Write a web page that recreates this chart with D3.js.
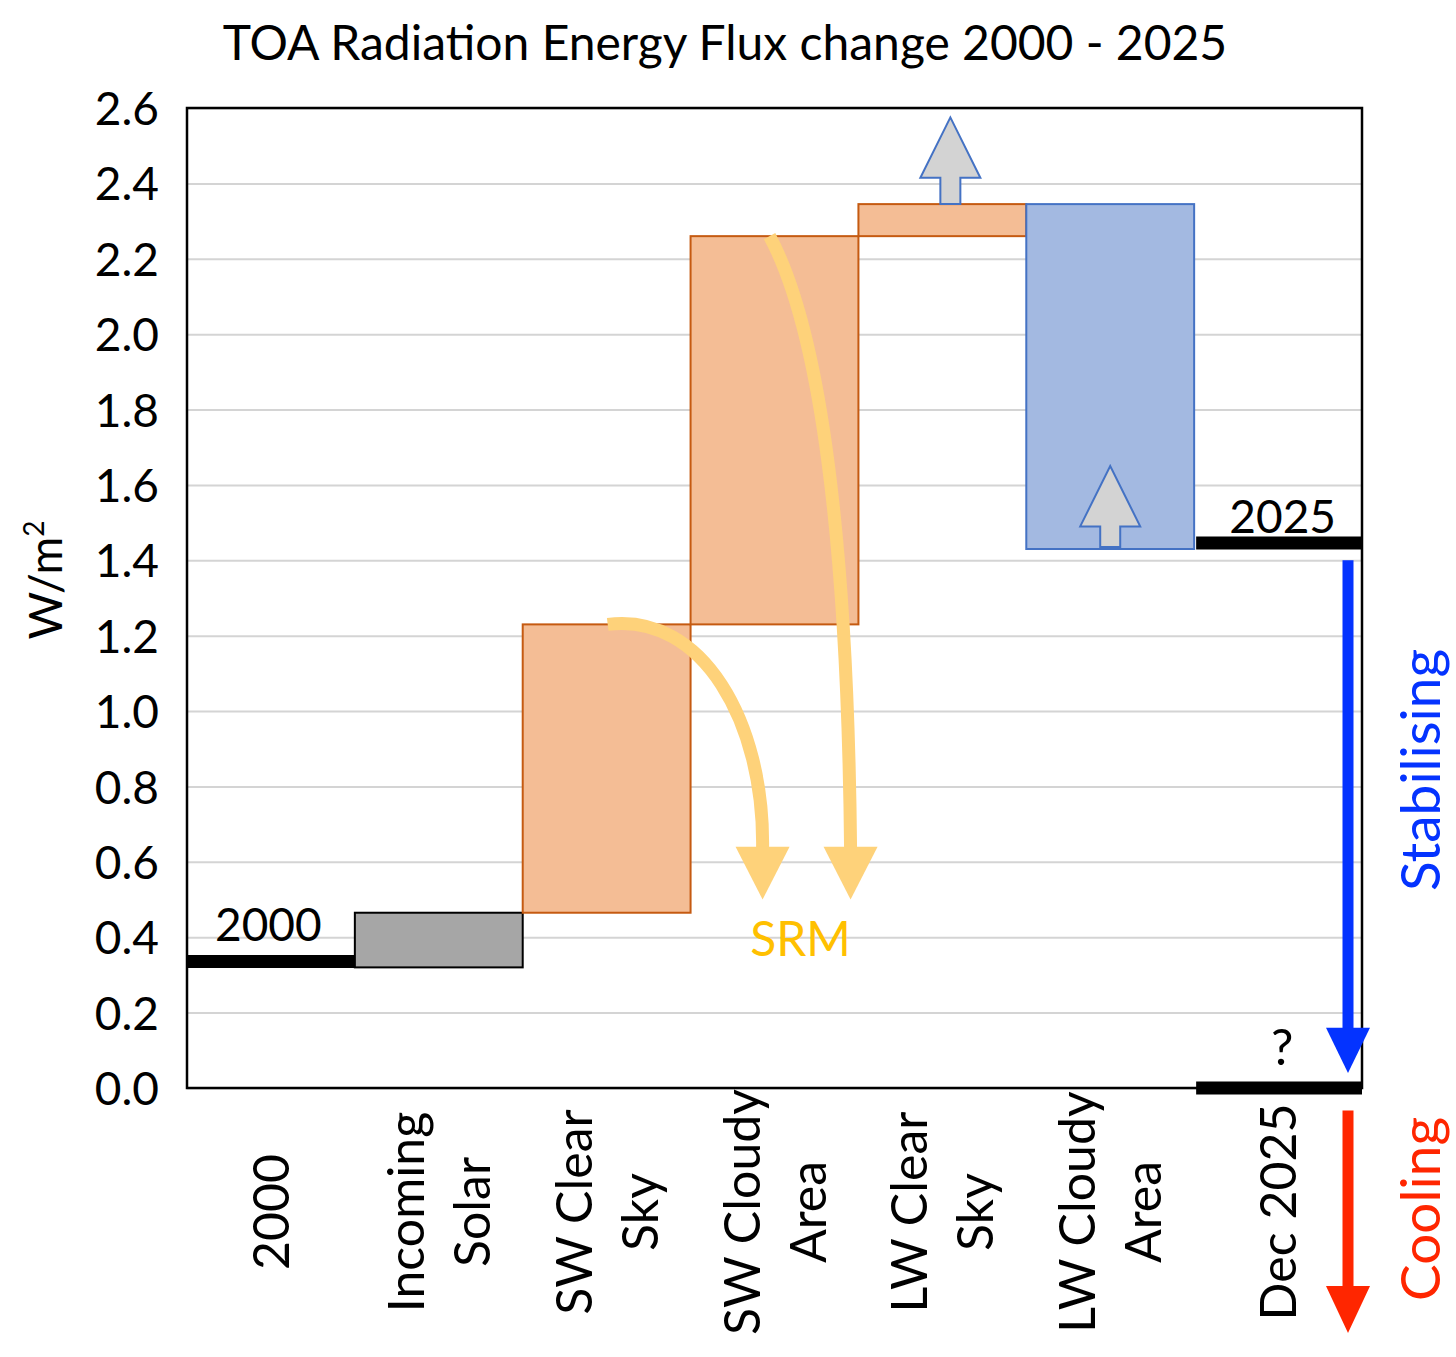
<!DOCTYPE html>
<html lang="en">
<head>
<meta charset="UTF-8">
<title>TOA Radiation Energy Flux change 2000 - 2025</title>
<script src="https://d3js.org/d3.v7.min.js"></script>
<style>
  body { margin: 0; background: #fff; }
  svg text { font-family: Lato, "Open Sans", sans-serif; fill: #000; }
  .grid line { stroke: #d4d4d4; stroke-width: 2px; }
  .grid path { display: none; }
</style>
</head>
<body>
<div id="chart"></div>
<script>
// waterfall data
const categories = [["2000"], ["Incoming", "Solar"], ["SW Clear", "Sky"], ["SW Cloudy", "Area"],
                    ["LW Clear", "Sky"], ["LW Cloudy", "Area"], ["Dec 2025"]];
const startTotal = 0.32;
const deltas = [0.145, 0.765, 1.03, 0.085, -0.915];   // Incoming .. LW Cloudy
const endTotal = 0.0;                                  // Dec 2025 "?"
const yTicks = [0, 0.2, 0.4, 0.6, 0.8, 1.0, 1.2, 1.4, 1.6, 1.8, 2.0, 2.2, 2.4, 2.6];
const fills = ["#a6a6a6", "#f4bd95", "#f4bd95", "#f4bd95", "#a3b9e1"];
const strokes = ["#000000", "#c55a11", "#c55a11", "#c55a11", "#4472c4"];

const width = 1456, height = 1357;
const margin = {top: 108, right: 94, bottom: 269, left: 187};
const w = width - margin.left - margin.right,
      h = height - margin.top - margin.bottom;

const svg = d3.select("#chart").append("svg")
    .attr("width", width)
    .attr("height", height);

const x = d3.scaleBand().domain(d3.range(categories.length)).range([0, w]).padding(0);
const y = d3.scaleLinear().domain([0, 2.6]).range([h, 0]);

const g = svg.append("g").attr("transform", `translate(${margin.left},${margin.top})`);

// gridlines
g.append("g").attr("class", "grid")
 .call(d3.axisLeft(y).tickValues(yTicks).tickSize(-w).tickFormat(""));

// build the steps
let level = startTotal;
const steps = deltas.map((d, i) => {
    const s = {i: i + 1, from: level, to: level + d};
    level += d;
    return s;
});

// floating bars
g.selectAll(".bar")
 .data(steps)
 .enter().append("rect")
 .attr("class", "bar")
 .attr("x", d => x(d.i))
 .attr("width", x.bandwidth())
 .attr("y", d => y(Math.max(d.from, d.to)))
 .attr("height", d => Math.abs(y(d.from) - y(d.to)))
 .style("fill", (d, k) => fills[k])
 .style("stroke", (d, k) => strokes[k])
 .style("stroke-width", 2);

// total levels drawn as thick black lines
const lvl = [
    {i: 0, v: startTotal, text: "2000", off: -6},
    {i: 6, v: level, text: "2025", off: -6},
    {i: 6, v: endTotal, text: "?", off: 0}
];
g.selectAll(".lvl")
 .data(lvl)
 .enter().append("line")
 .attr("x1", d => x(d.i) + (d.i ? 2 : 0))
 .attr("x2", d => x(d.i) + x.bandwidth())
 .attr("y1", d => y(d.v) + d.off)
 .attr("y2", d => y(d.v) + d.off)
 .style("stroke", "#000")
 .style("stroke-width", 13);

// labels above the level lines
g.append("text").attr("x", x(0) + 28).attr("y", y(startTotal) - 26)
 .style("font-size", "46px").text(lvl[0].text);
g.append("text").attr("x", x(6) + x.bandwidth() - 26).attr("y", y(level) - 16)
 .attr("text-anchor", "end").style("font-size", "46px").text(lvl[1].text);
g.append("text").attr("x", x(6) + 88).attr("y", y(0.06))
 .attr("text-anchor", "middle").style("font-size", "50px").text(lvl[2].text);

// frame
g.append("rect").attr("width", w).attr("height", h)
 .style("fill", "none").style("stroke", "#000").style("stroke-width", 2.5);

// y axis labels
const yAxis = g.append("g")
 .call(d3.axisLeft(y).tickValues(yTicks).tickSize(0).tickPadding(28).tickFormat(d3.format(".1f")));
yAxis.select(".domain").remove();
yAxis.selectAll("text").style("font-size", "46px").attr("dy", "0.36em");

// y axis title
svg.append("text")
 .attr("transform", `translate(62,580) rotate(-90)`)
 .attr("text-anchor", "middle")
 .style("font-size", "46px")
 .html('W/m<tspan dy="-18" style="font-size:28px">2</tspan>');

// chart title
svg.append("text")
 .attr("x", 725).attr("y", 60)
 .attr("text-anchor", "middle")
 .style("font-size", "48px")
 .text("TOA Radiation Energy Flux change 2000 - 2025");

// category labels, rotated
const capH = 36, lh = 66;
const catG = svg.selectAll(".cat")
 .data(categories)
 .enter().append("g")
 .attr("transform", (d, i) => `translate(${margin.left + x(i) + x.bandwidth() / 2},${1212}) rotate(-90)`);
catG.append("text")
 .attr("text-anchor", "middle")
 .style("font-size", "50px")
 .selectAll("tspan")
 .data(d => d.map((t, k) => ({t, k, n: d.length})))
 .enter().append("tspan")
 .attr("x", 0)
 .attr("y", d => -(capH + (d.n - 1) * lh) / 2 + capH + d.k * lh)
 .text(d => d.t);

// block arrows (grey, blue outline)
function blockArrow(cx, yBase, yHeadBase, yTip, shaftW, headW) {
    const p = d3.path();
    p.moveTo(cx - shaftW / 2, yBase);
    p.lineTo(cx - shaftW / 2, yHeadBase);
    p.lineTo(cx - headW / 2, yHeadBase);
    p.lineTo(cx, yTip);
    p.lineTo(cx + headW / 2, yHeadBase);
    p.lineTo(cx + shaftW / 2, yHeadBase);
    p.lineTo(cx + shaftW / 2, yBase);
    p.closePath();
    return p.toString();
}
const lwClear = steps[3], lwCloudy = steps[4];
g.append("path")
 .attr("d", blockArrow(x(4) + x.bandwidth() / 2 + 8, y(lwClear.to), y(2.415), y(2.575), 20, 60))
 .style("fill", "#d3d3d3").style("stroke", "#4472c4").style("stroke-width", 2);
g.append("path")
 .attr("d", blockArrow(x(5) + x.bandwidth() / 2, y(lwCloudy.to) - 2, y(1.49), y(1.65), 20, 60))
 .style("fill", "#d3d3d3").style("stroke", "#4472c4").style("stroke-width", 2);

// SRM curved arrows
const srmCol = "#fed27a";
function curveArrow(p0, p1, p2, p3, tipY) {
    const p = d3.path();
    p.moveTo(p0[0], p0[1]);
    p.bezierCurveTo(p1[0], p1[1], p2[0], p2[1], p3[0], p3[1]);
    g.append("path").attr("d", p.toString())
     .style("fill", "none").style("stroke", srmCol).style("stroke-width", 13);
    const hd = d3.path();
    hd.moveTo(p3[0] - 27, p3[1] - 2);
    hd.lineTo(p3[0] + 27, p3[1] - 2);
    hd.lineTo(p3[0], tipY);
    hd.closePath();
    g.append("path").attr("d", hd.toString()).style("fill", srmCol);
}
const swClear = steps[1], swCloudy = steps[2];
curveArrow([x(2) + 85, y(swClear.to)], [x(2) + 180, y(swClear.to) - 12],
           [x(3) + 74, y(0.97)], [x(3) + 72, y(0.635)], y(0.5));
curveArrow([x(3) + 79, y(swCloudy.to)], [x(3) + 130, y(2.01)],
           [x(3) + 157, y(1.45)], [x(3) + 160, y(0.635)], y(0.5));
g.append("text")
 .attr("x", x(3) + 110).attr("y", y(0.35))
 .attr("text-anchor", "middle")
 .style("font-size", "48px").style("fill", "#ffc000")
 .text("SRM");

// Stabilising / Cooling arrows on the right
function straightArrow(cx, y0, yHead, yTip, col) {
    g.append("line").attr("x1", cx).attr("x2", cx).attr("y1", y0).attr("y2", yHead + 2)
     .style("stroke", col).style("stroke-width", 11);
    const hd = d3.path();
    hd.moveTo(cx - 22, yHead);
    hd.lineTo(cx + 22, yHead);
    hd.lineTo(cx, yTip);
    hd.closePath();
    g.append("path").attr("d", hd.toString()).style("fill", col);
}
const ax = w - 14;
straightArrow(ax, y(1.40), y(0.16), y(0.04), "#0433ff");
straightArrow(ax, y(-0.06), y(-0.525), y(-0.65), "#ff2600");

svg.append("text")
 .attr("transform", `translate(1440,770) rotate(-90)`)
 .attr("text-anchor", "middle")
 .style("font-size", "55px").style("fill", "#0433ff")
 .text("Stabilising");
svg.append("text")
 .attr("transform", `translate(1440,1209) rotate(-90)`)
 .attr("text-anchor", "middle")
 .style("font-size", "55px").style("fill", "#ff2600")
 .text("Cooling");
</script>
</body>
</html>
